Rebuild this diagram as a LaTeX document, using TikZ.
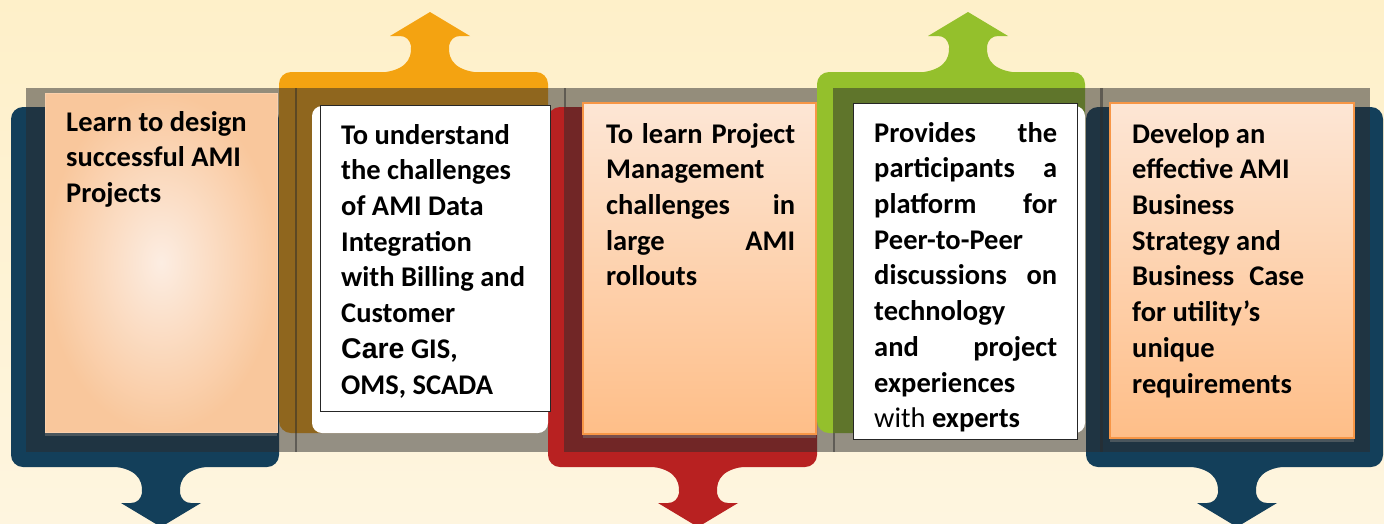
\documentclass[tikz,border=0pt]{standalone}
\usepackage{fontspec}
\setmainfont{Carlito}
\newfontfamily\arialfont{Liberation Sans}
\usetikzlibrary{shadows}
\definecolor{bgtop}{HTML}{FEF0C9}
\definecolor{bgbot}{HTML}{FEF5DF}
\definecolor{amiblue}{HTML}{133F5A}
\definecolor{amiorange}{HTML}{F4A311}
\definecolor{amired}{HTML}{B82121}
\definecolor{amigreen}{HTML}{94C02C}
\definecolor{bandgray}{HTML}{2B2B2B}
\definecolor{peachtop}{HTML}{FDE6D5}
\definecolor{peachbot}{HTML}{FEBE88}
\definecolor{peachedge}{HTML}{F79646}
\definecolor{peachpale}{HTML}{FCEDE2}
\definecolor{peachmid}{HTML}{F9C79C}
\tikzset{
  band/.style={fill=bandgray, fill opacity=0.5},
  panel/.style={rounded corners=12pt},
  peachbox/.style={draw=peachedge, line width=1.2pt, top color=peachtop, bottom color=peachbot,
    drop shadow={shadow xshift=0pt, shadow yshift=-4pt, opacity=0.45}},
  framebox/.style={fill=white, draw=black!85, line width=1pt},
  goaltext/.style={anchor=north west, inner sep=0pt, align=left,
    font=\fontsize{28.5}{35.7}\selectfont\bfseries}
}
\newcommand{\spreadline}[2]{\makebox[#1][s]{#2}}

\begin{document}
\begin{tikzpicture}[x=1pt,y=-1pt]
\useasboundingbox (0,0) rectangle (1384,523);
\clip (0,0) rectangle (1384,523);
\shade[top color=bgtop, bottom color=bgbot] (0,0) rectangle (1384,523);

% first blue panel, arrow down
\fill[amiblue, panel] (11,107) rectangle (279,467);
\fill[amiblue] (106,466) .. controls (136,467) and (143,479) .. (142,493)
  .. controls (141,499) and (137,503) .. (131,503) -- (121,503) -- (161,527) -- (201,503) -- (191,503)
  .. controls (185,503) and (181,499) .. (180,493) .. controls (179,479) and (186,467) .. (216,466) -- cycle;

% orange panel, arrow up
\fill[amiorange, panel] (279,72) rectangle (548,433);
\fill[amiorange] (375,73) .. controls (405,72) and (412,60) .. (411,46)
  .. controls (410,40) and (406,36) .. (400,36) -- (390,36) -- (430,12) -- (470,36) -- (460,36)
  .. controls (454,36) and (450,40) .. (449,46) .. controls (448,60) and (455,72) .. (485,73) -- cycle;

\fill[band] (26,88) rectangle (297,452);
\fill[band] (295,88) rectangle (566,452);

% red panel, arrow down
\fill[amired, panel] (548,107) rectangle (817,467);
\fill[amired] (643,466) .. controls (673,467) and (680,479) .. (679,493)
  .. controls (678,499) and (674,503) .. (668,503) -- (658,503) -- (698,527) -- (738,503) -- (728,503)
  .. controls (722,503) and (718,499) .. (717,493) .. controls (716,479) and (723,467) .. (753,466) -- cycle;

\fill[band] (564,88) rectangle (835,452);

% green panel, arrow up
\fill[amigreen, panel] (817,72) rectangle (1085,433);
\fill[amigreen] (913,73) .. controls (943,72) and (950,60) .. (949,46)
  .. controls (948,40) and (944,36) .. (938,36) -- (928,36) -- (968,12) -- (1008,36) -- (998,36)
  .. controls (992,36) and (988,40) .. (987,46) .. controls (986,60) and (993,72) .. (1023,73) -- cycle;

% last blue panel, arrow down
\fill[amiblue, panel] (1086,107) rectangle (1383,467);
\fill[amiblue] (1182,466) .. controls (1212,467) and (1219,479) .. (1218,493)
  .. controls (1217,499) and (1213,503) .. (1207,503) -- (1197,503) -- (1237,527) -- (1277,503) -- (1267,503)
  .. controls (1261,503) and (1257,499) .. (1256,493) .. controls (1255,479) and (1262,467) .. (1292,466) -- cycle;

\fill[band] (833,88) rectangle (1103,452);
\fill[band] (1100,88) rectangle (1370,452);

% white insides of the up panels
\fill[white, rounded corners=10pt] (312,106) rectangle (548,433);
\fill[white, rounded corners=10pt] (853,106) rectangle (1085,433);

% boxes
\path[draw=peachedge!45, line width=1pt, inner color=peachpale, outer color=peachmid,
  drop shadow={shadow xshift=0pt, shadow yshift=-4pt, opacity=0.45}] (45,93) rectangle (277,432);
\draw[framebox] (320,105) rectangle (550,411);
\path[peachbox] (583,103) rectangle (816,434);
\draw[framebox] (853,103) rectangle (1077,439);
\path[peachbox] (1110,103) rectangle (1354,438);

% texts
\node[goaltext] (goal1) at (66,106) {\strut Learn to design\\successful AMI\\Projects};
\node[goaltext] (goal2) at (341,119) {\strut To understand\\the challenges\\of AMI Data\\Integration\\with Billing and\\Customer\\{\arialfont\bfseries Care} GIS,\\OMS, SCADA};
\node[goaltext] (goal3) at (606,118) {\strut\spreadline{189pt}{To learn Project}\\Management\\\spreadline{189pt}{challenges in}\\\spreadline{189pt}{large AMI}\\rollouts};
\node[goaltext] (goal4) at (874,117) {\strut\spreadline{183pt}{Provides the}\\\spreadline{183pt}{participants a}\\\spreadline{183pt}{platform for}\\Peer-to-Peer\\\spreadline{183pt}{discussions on}\\technology\\\spreadline{183pt}{and project}\\experiences\\{\mdseries with} experts};
\node[goaltext] (goal5) at (1132,118) {\strut Develop an\\effective AMI\\Business\\Strategy and\\Business\hspace{15pt}Case\\for utility’s\\unique\\requirements};
\end{tikzpicture}
\end{document}
